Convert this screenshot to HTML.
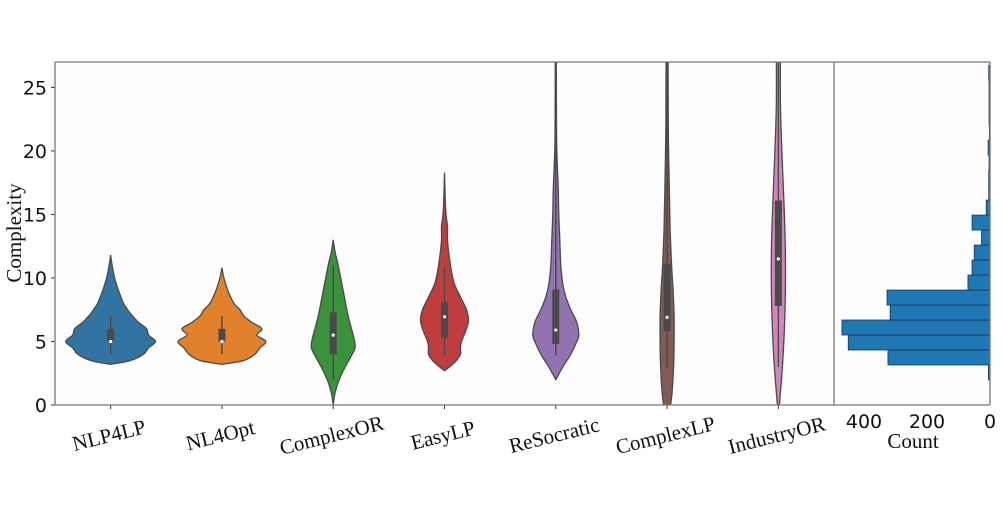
<!DOCTYPE html>
<html><head><meta charset="utf-8">
<style>
html,body{margin:0;padding:0;background:#fff;}
svg{display:block;}
.tk{font-family:"DejaVu Sans","Liberation Sans",sans-serif;font-size:19px;fill:#111;}
.sr{font-family:"Liberation Serif",serif;font-size:21px;fill:#111;}
</style></head>
<body>
<svg id="chart" width="1004" height="507" viewBox="0 0 1004 507" xmlns="http://www.w3.org/2000/svg">
<rect x="0" y="0" width="1004" height="507" fill="#fff"/>
<rect x="55" y="62" width="779" height="343" fill="#fdfdfd"/>
<rect x="834" y="62" width="157" height="343" fill="#fdfdfd"/>
<g id="violins"></g>
<g id="hist"></g>
<g id="axes"></g>
<text class="sr" transform="translate(21,233) rotate(-90)" text-anchor="middle">Complexity</text>
<text class="sr" x="913" y="448" text-anchor="middle">Count</text>
</svg>
<script>
const categories=["NLP4LP","NL4Opt","ComplexOR","EasyLP","ReSocratic","ComplexLP","IndustryOR"];
const colors=["#3274a1","#e1812c","#3a923a","#c03d3e","#9372b2","#845b53","#d684bd"];
const profYs=[
 [3.2,3.5,4,4.5,5,5.5,6,6.5,7,7.5,8,9,10,11,11.8],
 [3.2,3.5,4,4.5,5,5.5,6,6.5,7,7.5,8,9,10,10.8],
 [0,1,2,3,4,4.6,5.5,7,9,11,12,13],
 [2.7,3,3.5,4,4.5,5,6,6.7,7.5,8.5,9.5,10.5,11.5,13,14,15,16,18.3],
 [2,3,4,5,5.5,6.5,7.5,8.5,9.5,11,13,15,17,19,21,27.5],
 [0,1,3,5,7,9,11,14,18,22,27.5],
 [0,3,6,9,12,15,18,21,24,27.5]];
const profW=[
 [0,20,33,38,45,38,36,28,22,17,13,8,4,1.5,0],
 [0,22,33,38,44,35,40,30,22,18,12,6,2,0],
 [0,2,6,12,19,22,20,15,10,5,2,0],
 [0,5,12,16,16,17,22,24,22,16,10,7,5,3,3,1.5,0.8,0],
 [0,7,15,21,23,21,15,10,7,5,4,3,2.5,1.5,0.8,0.5],
 [3.5,5,6.5,7,7,6,4.5,3,2,1.2,1],
 [1,4,6,7,7,6,4.5,3,2,2]];
const q1=[5,5,4,5.3,4.8,5.8,7.8];
const q3=[6,6,7.3,8.1,9.1,11.1,16.1];
const med=[5,5,5.5,6.95,5.9,6.9,11.5];
const whLo=[4,4,2,3.9,3.9,2.9,3];
const whHi=[7,7,11,11,27.5,27.5,27.5];
const binStart=1.97, binW=1.18;
const counts=[5,324,450,470,317,327,70,57,50,27,57,12,4,4,3,6,2,3,3,3,4];
const yTicks=[0,5,10,15,20,25];
const cTicks=[400,200,0];

const NS="http://www.w3.org/2000/svg";
const pTop=62,pBot=405,pLeft=55,pRight=834,hl=834,hr=990;
const yS=v=>pBot-(v/27)*(pBot-pTop);
const xS=i=>pLeft+(i+0.5)*(pRight-pLeft)/categories.length;
const cS=c=>hr-c*0.315;
function mk(tag,at,parent){const e=document.createElementNS(NS,tag);for(const k in at)e.setAttribute(k,at[k]);parent.appendChild(e);return e;}
function smooth(pts){
  let d='M'+pts[0][0].toFixed(1)+','+pts[0][1].toFixed(1);
  for(let i=0;i<pts.length-1;i++){
    const p0=pts[Math.max(0,i-1)],p1=pts[i],p2=pts[i+1],p3=pts[Math.min(pts.length-1,i+2)];
    const c1=[p1[0]+(p2[0]-p0[0])/6,p1[1]+(p2[1]-p0[1])/6];
    const c2=[p2[0]-(p3[0]-p1[0])/6,p2[1]-(p3[1]-p1[1])/6];
    d+='C'+c1[0].toFixed(1)+','+c1[1].toFixed(1)+' '+c2[0].toFixed(1)+','+c2[1].toFixed(1)+' '+p2[0].toFixed(1)+','+p2[1].toFixed(1);
  }
  return d;
}
const V=document.getElementById('violins'),H=document.getElementById('hist'),A=document.getElementById('axes');
const defs=mk('defs',{},document.getElementById('chart'));
const clip=mk('clipPath',{id:'cp'},defs);
mk('rect',{x:pLeft,y:pTop,width:pRight-pLeft,height:pBot-pTop},clip);
V.setAttribute('clip-path','url(#cp)');
categories.forEach((c,i)=>{
  const cx=xS(i),ys=profYs[i],ws=profW[i];
  const r=ys.map((y,j)=>[cx+ws[j],yS(y)]);
  const l=ys.map((y,j)=>[cx-ws[j],yS(y)]).reverse();
  const d=smooth(r)+smooth(l).replace('M','L')+'Z';
  const p=mk('path',{d:d,fill:colors[i],stroke:'#4a4a4a','stroke-width':1.3},V);
  
  
  const w=mk('line',{x1:cx,x2:cx,y1:yS(whLo[i]),y2:yS(whHi[i]),stroke:'#4a4a4a','stroke-width':1.4},V);
  
  
  const b=mk('rect',{x:cx-3.5,y:yS(q3[i]),width:7,height:yS(q1[i])-yS(q3[i]),fill:'#4a4a4a'},V);
  
  
  const m=mk('circle',{cx:cx,cy:yS(med[i]),r:1.6,fill:'#fff'},V);
  
  
  const t=mk('text',{class:'sr',transform:`translate(${cx},442) rotate(-14)`,'text-anchor':'middle'},A);
  t.textContent=c;
  
  
  const tk=mk('line',{x1:cx,x2:cx,y1:pBot,y2:pBot+4,stroke:'#333'},A);
  
  
});
counts.forEach((n,k)=>{
  const y0=yS(binStart+k*binW),y1=yS(binStart+(k+1)*binW);
  if(y1<pTop)return;
  const r=mk('rect',{x:cS(n),y:y1,width:hr-cS(n),height:y0-y1,fill:'#1f77b4',stroke:'#1a3550','stroke-width':0.8},H);
  
  
});
yTicks.forEach(v=>{
  const t=mk('text',{class:'tk',x:47,y:yS(v)+7,'text-anchor':'end'},A);
  t.textContent=v;
  
  
  const l=mk('line',{x1:51,x2:55,y1:yS(v),y2:yS(v),stroke:'#333'},A);
  
  
});
cTicks.forEach(v=>{
  const t=mk('text',{class:'tk',x:cS(v),y:428,'text-anchor':'middle'},A);
  t.textContent=v;
  
  
});
const ax=[[pLeft,pTop,pRight,pTop],[pLeft,pTop,pLeft,pBot],[pLeft,pBot,pRight,pBot],[pRight,pTop,pRight,pBot],[hl,pTop,hr,pTop],[hl,pBot,hr,pBot],[hr,pTop,hr,pBot]];
ax.forEach(a=>{
  const l=mk('line',{x1:a[0],y1:a[1],x2:a[2],y2:a[3],stroke:'#777','stroke-width':1.3},A);
  
  
});
</script>
</body></html>
